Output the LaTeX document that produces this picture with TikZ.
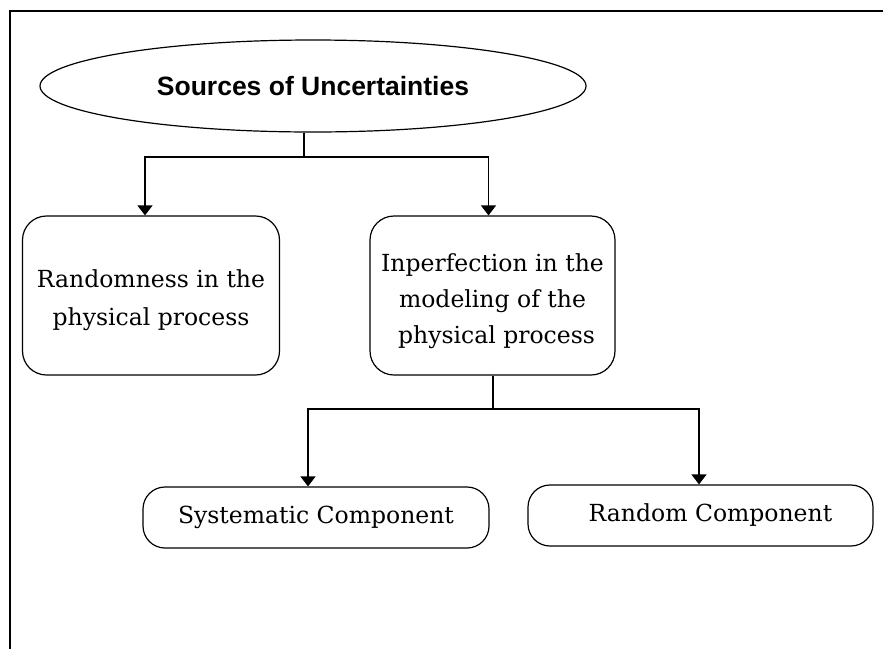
\documentclass[tikz,border=0pt]{standalone}
\usepackage{fontspec}
\setmainfont{DejaVu Serif}
\newfontfamily\headfont{Liberation Sans}
\usetikzlibrary{shapes.geometric,arrows.meta,calc}

\begin{document}
\begin{tikzpicture}[x=1pt,y=-1pt,
  line/.style={line width=1.2pt},
  arr/.style={line, -{Triangle[width=15pt,length=10pt]}},
  box/.style={draw, line width=1.2pt, rounded corners=24pt, align=center,
              inner sep=0pt, font=\fontsize{23.5}{38}\selectfont},
  pill/.style={box, rounded corners=22pt},
]
\useasboundingbox (0,0) rectangle (883,649);

% frame
\draw[line width=2.8pt] (883,11) -- (10,11) -- (10,649);

% root
\node[draw, ellipse, line width=1.2pt, minimum width=546pt, minimum height=92pt,
      inner sep=0pt, font=\headfont\bfseries\fontsize{26.5}{30}\selectfont]
  (src) at (313,86) {Sources of Uncertainties};

% second level (the struts push the text block slightly below centre)
\node[box, minimum width=257pt, minimum height=159pt] (rnd) at (151,295.5)
  {\rule{0pt}{27pt}Randomness in the\\physical process};
\node[box, minimum width=245pt, minimum height=159pt,
      font=\fontsize{23.5}{36}\selectfont] (imp) at (492.5,295.5)
  {\rule{0pt}{30pt}Inperfection in the\\modeling of the\\\hspace*{8pt}physical process};

% third level
\node[pill, minimum width=346pt, minimum height=61pt] (sys) at (316,517.5)
  {Systematic Component};
\node[pill, minimum width=345pt, minimum height=61pt] (rc) at (700.5,515.5)
  {\hspace*{20pt}Random Component};

% connectors
\coordinate (j1) at (304,157);
\draw[line] (src.south -| j1) -- (j1);
\draw[arr] (j1) -| ([xshift=-6pt]rnd.north);
\draw[arr] (j1) -| ([xshift=-4pt]imp.north);

\coordinate (j2) at (493,409);
\draw[line] (imp.south -| j2) -- (j2);
\draw[arr] (j2) -| ([xshift=-8pt]sys.north);
\draw[arr] (j2) -| ([xshift=-1.5pt]rc.north);
\end{tikzpicture}
\end{document}
